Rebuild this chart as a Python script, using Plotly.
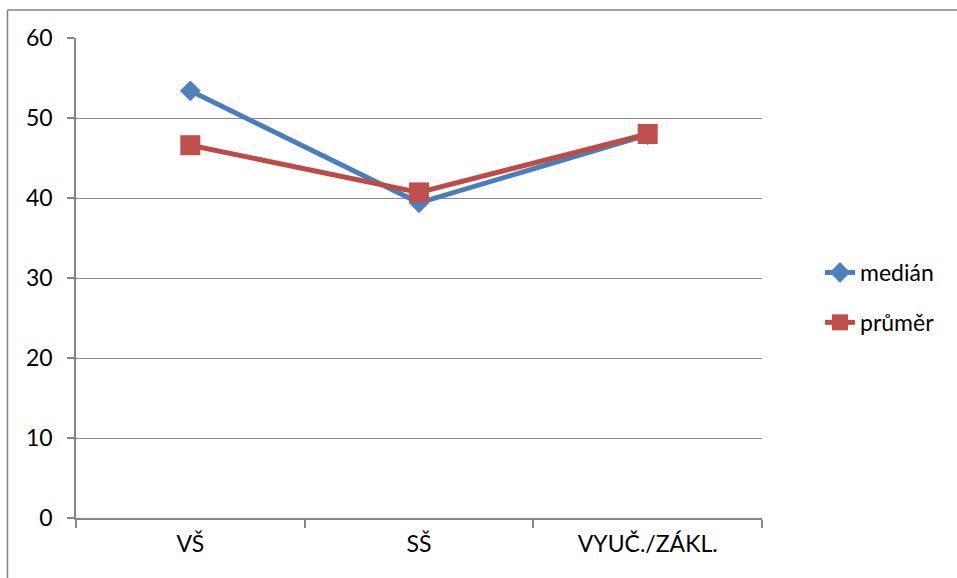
import plotly.graph_objects as go

# Education categories and the two summary statistics per category
categories = ["VŠ", "SŠ", "VYUČ./ZÁKL."]
median_values = [53.4, 39.4, 47.9]
mean_values = [46.6, 40.7, 48.0]
y_ticks = [0, 10, 20, 30, 40, 50, 60]

BLUE = "#4A7EBB"
RED = "#BE4B48"
GRID = "#868686"
FONT = "Lato"

fig = go.Figure()
fig.add_trace(go.Scatter(
    x=categories, y=median_values, name="medián", mode="lines+markers",
    line=dict(color=BLUE, width=5),
    marker=dict(symbol="diamond", size=16, color="#4F81BD", line=dict(width=0)),
    legendgroup="a",
))
fig.add_trace(go.Scatter(
    x=categories, y=mean_values, name="průměr", mode="lines+markers",
    line=dict(color=RED, width=5),
    marker=dict(symbol="square", size=20, color="#C0504D", line=dict(width=0)),
    legendgroup="b",
))

L, R, T, B = 76, 195, 38, 60
W, H = 957, 578
pw, ph = W - L - R, H - T - B

def px_x(p):
    return (p - L) / pw

def px_y(p):
    return (H - B - p) / ph

fig.update_layout(
    width=W, height=H,
    margin=dict(l=L, r=R, t=T, b=B, pad=0),
    paper_bgcolor="white", plot_bgcolor="white",
    font=dict(family=FONT, size=23, color="black"),
    showlegend=True,
    legend=dict(
        x=px_x(820), xanchor="left", y=px_y(251), yanchor="top",
        traceorder="grouped", tracegroupgap=17,
        font=dict(family=FONT, size=23), bgcolor="rgba(0,0,0,0)",
        itemwidth=30,
    ),
    xaxis=dict(
        type="category", range=[-0.5, 2.5], tickson="boundaries",
        ticks="outside", ticklen=8, tickcolor=GRID, tickwidth=1.5,
        showline=True, linecolor=GRID, linewidth=1.5,
        showgrid=False, zeroline=False, ticklabelstandoff=5,
        fixedrange=True,
    ),
    yaxis=dict(
        range=[0, 60], tickvals=y_ticks,
        ticks="outside", ticklen=7, tickcolor=GRID, tickwidth=1.5,
        showline=True, linecolor=GRID, linewidth=1.5,
        showgrid=True, gridcolor=GRID, gridwidth=1.3,
        zeroline=False, ticklabelstandoff=10,
        fixedrange=True,
    ),
    shapes=[
        # outer chart frame (left and top edges)
        dict(type="line", xref="paper", yref="paper",
             x0=px_x(7.5), x1=px_x(7.5), y0=px_y(10), y1=px_y(620),
             line=dict(color="#808080", width=1.5)),
        dict(type="line", xref="paper", yref="paper",
             x0=px_x(7.5), x1=px_x(1000), y0=px_y(10), y1=px_y(10),
             line=dict(color="#808080", width=1.5)),
    ],
)

fig.write_html("out.html")
